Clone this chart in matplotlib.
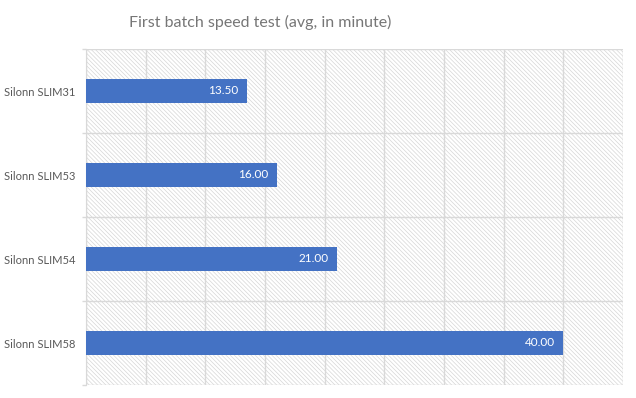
import matplotlib
matplotlib.use("Agg")
import matplotlib.pyplot as plt
from matplotlib.patches import Rectangle
import numpy as np

categories = ["Silonn SLIM31", "Silonn SLIM53", "Silonn SLIM54", "Silonn SLIM58"]
values = [13.50, 16.00, 21.00, 40.00]
title = "First batch speed test (avg, in minute)"

plt.rcParams['font.family'] = ['Lato', 'DejaVu Sans']
plt.rcParams['hatch.linewidth'] = 0.5
plt.rcParams['hatch.color'] = '#d6d6d6'

fig = plt.figure(figsize=(6.36, 3.98), dpi=100)
ax = fig.add_axes([86/636, 1-385/398, (623-86)/636, (385-49)/398])

bg = Rectangle((0, 0), 1, 1, transform=ax.transAxes, facecolor='white',
               edgecolor='#d6d6d6', hatch='\\' * 8, linewidth=0, zorder=0)
ax.add_patch(bg)

y = np.arange(len(categories))
ax.barh(y, values, height=0.28, color='#4472C4', zorder=3)
for yi, v in zip(y, values):
    ax.text(v - 0.7, yi, f"{v:.2f}", ha='right', va='center', color='white',
            fontsize=8.5, zorder=4)

ax.set_xlim(0, 45)
ax.set_ylim(len(categories) - 0.5, -0.5)
ax.set_xticks(np.arange(0, 46, 5))
ax.set_xticklabels([])
ax.tick_params(axis='x', length=0)
ax.set_yticks(y)
ax.set_yticklabels(categories, fontsize=8, color='#595959')
ax.tick_params(axis='y', which='major', length=0, pad=7.5)
ax.set_yticks(np.arange(-0.5, len(categories), 1), minor=True)
ax.tick_params(axis='y', which='minor', length=3, color='#d9d9d9', width=1)
ax.grid(axis='x', which='major', color='#d9d9d9', linewidth=1, zorder=1)
ax.grid(axis='y', which='minor', color='#d9d9d9', linewidth=1, zorder=1)
ax.set_axisbelow(True)
for s in ['top', 'right', 'bottom']:
    ax.spines[s].set_visible(False)
ax.spines['left'].set_color('#d9d9d9')

fig.text((133+388)/2/636, 1-22/398, title, ha='center', va='center',
         fontsize=11.5, color='#767676')

fig.savefig("out.png", dpi=100)
